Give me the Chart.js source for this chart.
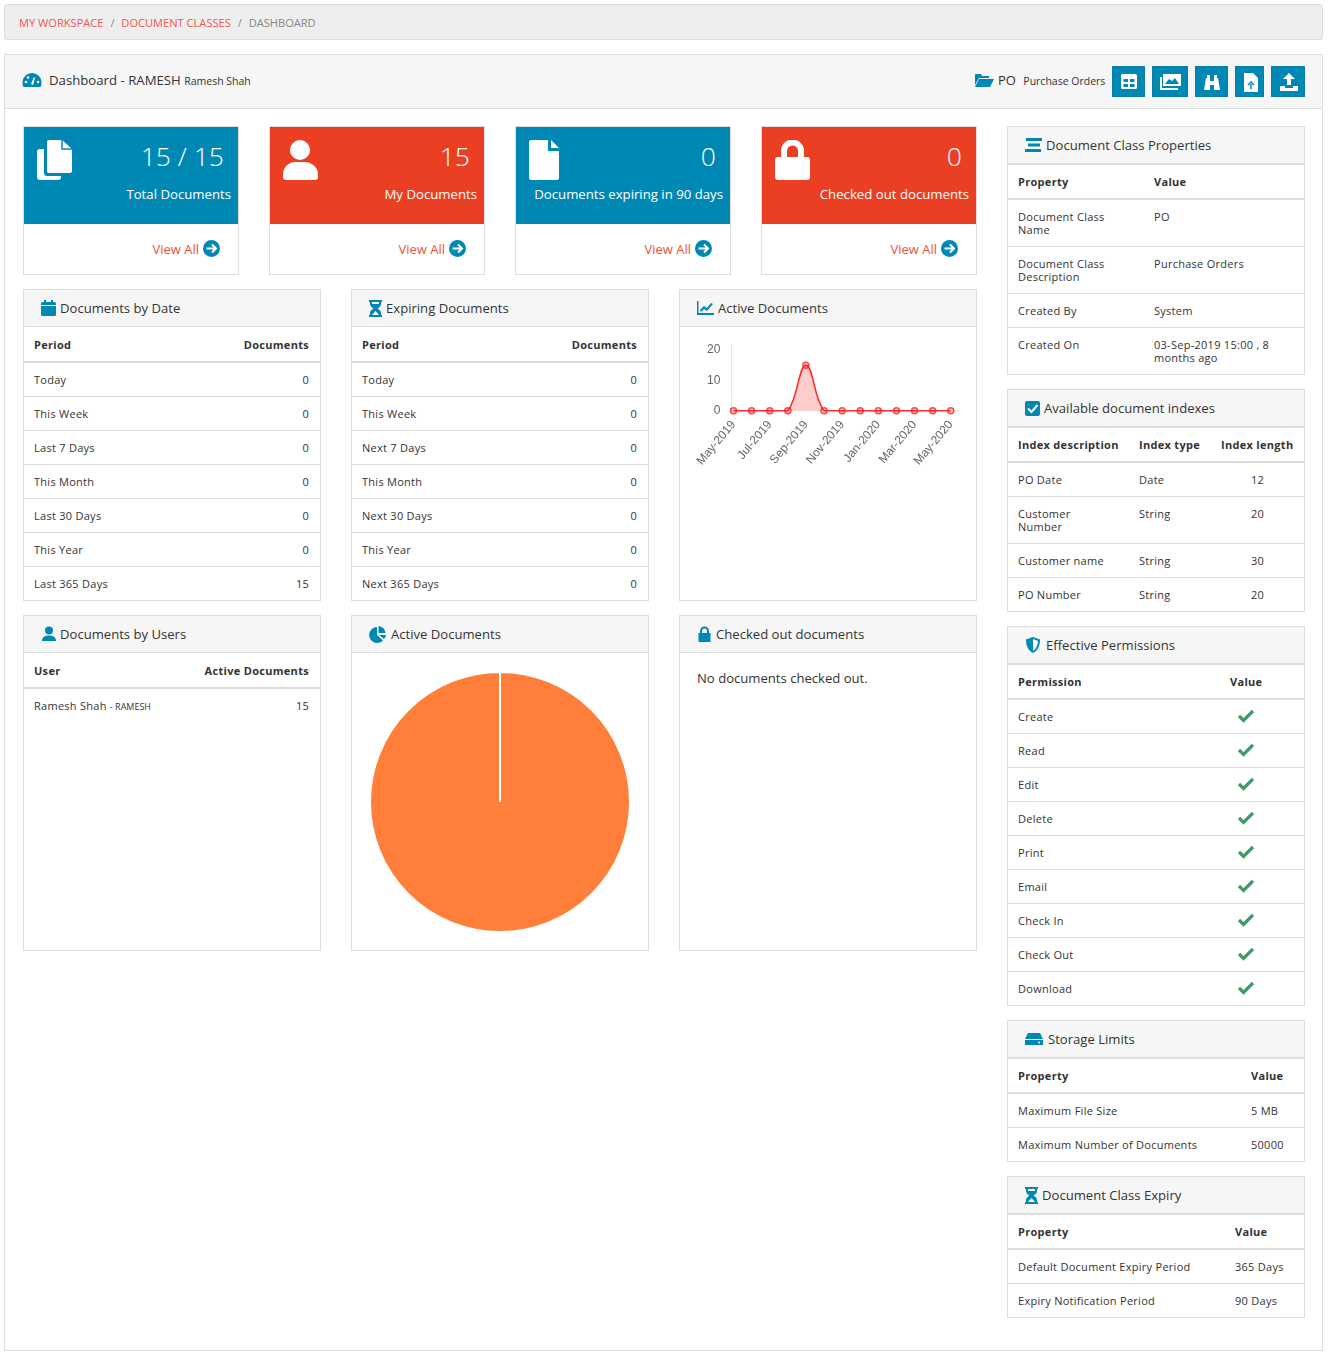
<!DOCTYPE html>
<html lang="en">
<head>
<meta charset="UTF-8" />
<title>Dashboard</title>
<script src="https://cdn.jsdelivr.net/npm/chart.js"></script>
<style>
  html, body { margin: 0; padding: 0; background: #fff; }
  body { width: 1328px; height: 1366px; position: relative; overflow: hidden; font-family: "Open Sans", sans-serif; font-size: 11px; color: #333; }
  .abs { position: absolute; box-sizing: border-box; }
  .crumb { left: 4px; top: 4px; width: 1319px; height: 36px; background: #eee; border: 1px solid #ddd; border-radius: 3px; line-height: 36px; padding-left: 14px; font-size: 11.1px; color: #888; }
  .crumb a { color: #f0584a; }
  .crumb i { font-style: normal; margin: 0 4px; color: #888; }
  .main { left: 4px; top: 54px; width: 1319px; height: 1297px; border: 1px solid #ddd; }
  .mainhead { left: 5px; top: 55px; width: 1317px; height: 54px; background: #f6f6f6; border-bottom: 1px solid #ddd; }
  .tile { width: 216px; height: 149px; border: 1px solid #ddd; top: 126px; background: #fff; }
  .tile .top { position: absolute; left: 0; top: 0; right: 0; height: 97px; color: #fff; text-align: right; }
  .tile .num { position: absolute; right: 14px; top: 10px; font-size: 26.5px; font-weight: 300; line-height: 38px; }
  .tile .lbl { position: absolute; right: 7px; top: 58px; font-size: 13.2px; line-height: 18px; white-space: nowrap; }
  .tile .view { position: absolute; right: 39px; top: 113px; color: #ee5138; font-size: 13px; line-height: 18px; }
  .tile svg.ic { position: absolute; left: 13px; top: 13px; }
  .tile svg.go { position: absolute; right: 18px; top: 113px; }
  .panel { border: 1px solid #ddd; background: #fff; }
  .phead { height: 36px; background: #f6f6f6; border-bottom: 1px solid #ddd; font-size: 13.1px; line-height: 37px; color: #333; position: relative; white-space: nowrap; }
  .phead svg { position: absolute; top: 10px; }
  .phead.r { border-bottom: 2px solid #ddd; }
  table { border-collapse: collapse; table-layout: fixed; width: 100%; }
  th, td { padding: 10px; line-height: 13px; font-size: 11px; letter-spacing: .27px; font-weight: 400; text-align: left; border-bottom: 1px solid #ddd; vertical-align: top; }
  th { font-weight: 700; border-bottom: 2px solid #ddd; padding: 11px 10px 10px; letter-spacing: .3px; white-space: nowrap; }
  .phead.r + table th { padding-top: 10px; }
  tr:last-child td { border-bottom: 0; }
  th.R, td.R { text-align: right; padding-right: 11px; }
  .btn { top: 66px; height: 31px; background: #0088b5; border: 1px solid #0b7ca3; }
</style>
</head>
<body>
<script>
// chart data
const months = ['May-2019', 'Jun-2019', 'Jul-2019', 'Aug-2019', 'Sep-2019', 'Oct-2019', 'Nov-2019', 'Dec-2019', 'Jan-2020', 'Feb-2020', 'Mar-2020', 'Apr-2020', 'May-2020'];
const activeDocs = [0, 0, 0, 0, 15, 0, 0, 0, 0, 0, 0, 0, 0];
const pieValues = [15];

// table data
const byDate = [['Today', 0], ['This Week', 0], ['Last 7 Days', 0], ['This Month', 0], ['Last 30 Days', 0], ['This Year', 0], ['Last 365 Days', 15]];
const expiring = [['Today', 0], ['This Week', 0], ['Next 7 Days', 0], ['This Month', 0], ['Next 30 Days', 0], ['This Year', 0], ['Next 365 Days', 0]];
const classProps = [['Document Class Name', 'PO'], ['Document Class Description', 'Purchase Orders'], ['Created By', 'System'], ['Created On', '03-Sep-2019 15:00 , 8 months ago']];
const indexes = [['PO Date', 'Date', 12], ['Customer<br>Number', 'String', 20], ['Customer name', 'String', 30], ['PO Number', 'String', 20]];
const permissions = ['Create', 'Read', 'Edit', 'Delete', 'Print', 'Email', 'Check In', 'Check Out', 'Download'];
const storage = [['Maximum File Size', '5 MB'], ['Maximum Number of Documents', '50000']];
const expiry = [['Default Document Expiry Period', '365 Days'], ['Expiry Notification Period', '90 Days']];

const BLUE = '#0088b5', RED = '#ea3f22';

function svg(w, h, vb, body, cls, extra) {
  return `<svg class="${cls || ''}" width="${w}" height="${h}" viewBox="${vb}" style="${extra || ''}">${body}</svg>`;
}
const icons = {
  cal: c => `<rect x="0" y="2" width="15" height="14" rx="1.5" fill="${c}"/><rect x="3" y="0" width="2" height="4" fill="${c}"/><rect x="10" y="0" width="2" height="4" fill="${c}"/><rect x="0" y="5" width="15" height="1" fill="#fff"/>`,
  hour: c => `<path d="M0 0h13v2h-1v2c0 2-2 3.500-3.500 4.500C10 9.500 12 11 12 13v2h1v2H0v-2h1v-2c0-2 2-3.500 3.500-4.500C3 7.500 1 6 1 4V2H0z" fill="${c}"/><path d="M3 2h7v2H3zM6.500 11l3.500 4H3z" fill="#fff"/>`,
  line: c => `<path d="M0 1h1.500v12H17v2H0z" fill="${c}"/><path d="M3 10l4-4 3 2 4-5 2 1-6 7-3-2-3 3z" fill="${c}"/>`,
  user: c => `<circle cx="8" cy="4.500" r="4" fill="${c}"/><path d="M1 15c0-4 3-5.500 7-5.500s7 1.500 7 5.500z" fill="${c}"/>`,
  pie: c => `<path d="M8 1a8 8 0 1 0 6 13.500L8 9z" fill="${c}"/><path d="M9.500 0a7.500 7.500 0 0 1 7 7H9.500z" fill="${c}"/><path d="M10 9h7a7 7 0 0 1-2 4z" fill="${c}"/>`,
  lock: c => `<path d="M3 7V5a4.500 4.500 0 0 1 9 0v2h1.500v9H1.500V7zM5 7h5V5a2.500 2.500 0 0 0-5 0z" fill="${c}"/>`,
  bars: c => `<rect x="1" y="1" width="16" height="3" fill="${c}"/><rect x="3" y="6.500" width="12" height="3" fill="${c}"/><rect x="0" y="12" width="16" height="3" fill="${c}"/>`,
  check: c => `<rect x="0" y="1" width="15" height="15" rx="2" fill="${c}"/><path d="M3 8.500l3.500 3.500L12.500 5" stroke="#fff" stroke-width="2" fill="none"/>`,
  shield: c => `<path d="M8 0l7 2.500c0 6-2 11-7 13.500C3 13.500 1 8.500 1 2.500z" fill="${c}"/><path d="M8 2l5 2c0 4-2 8-5 10z" fill="#fff"/>`,
  hdd: c => `<path d="M3 2h12l3 6v6H0V8z" fill="${c}"/><rect x="0" y="8" width="18" height="1" fill="#fff"/><circle cx="14" cy="11.500" r="1" fill="#fff"/>`,
  tick: c => `<path d="M1 8l4.500 4.500L15 3" stroke="${c}" stroke-width="3.200" fill="none"/>`
};

function add(html) {
  const d = document.createElement('div');
  d.innerHTML = html;
  while (d.firstChild) document.body.appendChild(d.firstChild);
}

// panel with a table inside, left/top/height are page pixels
function panel(left, top, height, title, icon, iconW, textX, heads, widths, rows, opts) {
  opts = opts || {};
  const align = opts.align || [];
  let body = '';
  if (heads) {
    const cols = widths.map(w => `<col style="width:${w}px">`).join('');
    const th = heads.map((h, i) => `<th class="${align[i] || ''}">${h}</th>`).join('');
    const tr = rows.map(r => '<tr>' + r.map((c, i) => `<td class="${align[i] || ''}">${c}</td>`).join('') + '</tr>').join('');
    body = `<table><colgroup>${cols}</colgroup><thead><tr>${th}</tr></thead><tbody>${tr}</tbody></table>`;
  }
  add(`<div class="abs panel" style="left:${left}px;top:${top}px;width:298px;height:${height}px">
    <div class="phead ${opts.right ? 'r' : ''}"><span style="position:absolute;left:${textX}px">${title}</span>
    ${svg(iconW, 17, `0 0 ${iconW} 17`, icons[icon](BLUE), '', `left:${opts.iconX || 17}px`)}</div>${body}${opts.html || ''}</div>`);
}

add(`<div class="abs crumb"><a>MY WORKSPACE</a><i> / </i><a>DOCUMENT CLASSES</a><i> / </i>DASHBOARD</div>`);
add(`<div class="abs main"></div><div class="abs mainhead"></div>`);
add(`<svg class="abs" style="left:22px;top:72px" width="20" height="16" viewBox="0 0 20 16"><path d="M10 1a9.500 9.500 0 0 0-9.500 9.500c0 2 .5 3.500 1 4.500h17c.5-1 1-2.500 1-4.500A9.500 9.500 0 0 0 10 1z" fill="${BLUE}"/><path d="M9 12l3-7 1 1-2 7z" fill="#fff"/><circle cx="4" cy="10" r="1.300" fill="#fff"/><circle cx="6" cy="5.500" r="1.300" fill="#fff"/><circle cx="16" cy="10" r="1.300" fill="#fff"/></svg>`);
add(`<div class="abs" style="left:49px;top:71px;font-size:13.2px;line-height:18px;white-space:nowrap">Dashboard - RAMESH <span style="font-size:10.500px">Ramesh Shah</span></div>`);
add(`<svg class="abs" style="left:975px;top:73px" width="19" height="14" viewBox="0 0 19 14"><path d="M0 2a1 1 0 0 1 1-1h5l1 2h7v2H4L0 12z" fill="${BLUE}"/><path d="M4 6h15l-4 8H0z" fill="${BLUE}"/></svg>`);
add(`<div class="abs" style="left:998px;top:71px;font-size:13px;line-height:18px;white-space:nowrap">PO <span style="font-size:10.500px;margin-left:4px">Purchase Orders</span></div>`);

// toolbar buttons
const btnIcons = [
  [1112, 33, `<rect x="8" y="7" width="16" height="15" rx="1.500" fill="#fff"/><path d="M10.500 12h4.500v3h-4.500zM17 12h4.500v3H17zM10.500 17h4.500v3h-4.500zM17 17h4.500v3H17z" fill="${BLUE}"/>`],
  [1152, 36, `<path d="M10 7h18v12H10z" fill="#fff"/><path d="M12 17l4-5 3 2 3-3 4 6z" fill="${BLUE}"/><path d="M8 10v12h17" stroke="#fff" stroke-width="2" fill="none"/>`],
  [1195, 33, `<path d="M8 23l2-12h4v12zM18 23V11h4l2 12zM14 14h4v4h-4zM11 8h3v3h-3zM18 8h3v3h-3z" fill="#fff"/>`],
  [1235, 29, `<path d="M8 6h9l5 5v14H8z" fill="#fff"/><path d="M15 22v-5m-3 1l3-3 3 3" stroke="${BLUE}" stroke-width="1.500" fill="none"/>`],
  [1271, 34, `<path d="M17 6l6 6h-4v6h-4v-6h-4zM8 19h5v2h8v-2h5v5H8z" fill="#fff"/>`]
];
btnIcons.forEach(b => add(`<div class="abs btn" style="left:${b[0]}px;width:${b[1]}px"><svg width="${b[1] - 2}" height="29" viewBox="0 0 ${b[1] - 2} 29" style="display:block">${b[2]}</svg></div>`));

// tiles
const tileNums = ['15 / 15', '15', '0', '0'];
const tileLabels = ['Total Documents', 'My Documents', 'Documents expiring in 90 days', 'Checked out documents'];
const tileLefts = [23, 269, 515, 761];
const tileColors = [BLUE, RED, BLUE, RED];
const tileIcons = [
  `<path d="M10 2a2 2 0 0 1 2-2h13l10 9v22a2 2 0 0 1-2 2H12a2 2 0 0 1-2-2z" fill="#fff"/><path d="M25 0v9h10" fill="none" stroke="${BLUE}" stroke-width="1.500"/><path d="M0 12a3 3 0 0 1 3-3h4v24a3 3 0 0 0 3 3h14v1a3 3 0 0 1-3 3H3a3 3 0 0 1-3-3z" fill="#fff"/>`,
  `<circle cx="17" cy="10" r="10" fill="#fff"/><path d="M0 37v-3c0-7 6-12 12-12h10c6 0 13 5 13 12v3a3 3 0 0 1-3 3H3a3 3 0 0 1-3-3z" fill="#fff"/>`,
  `<path d="M2 0h17v11h11v27a2 2 0 0 1-2 2H2a2 2 0 0 1-2-2V2a2 2 0 0 1 2-2z" fill="#fff"/><path d="M22 0l8 8h-8z" fill="#fff"/>`,
  `<path d="M6 17v-6a11.500 11.500 0 0 1 23 0v6h3a3 3 0 0 1 3 3v17a3 3 0 0 1-3 3H3a3 3 0 0 1-3-3V20a3 3 0 0 1 3-3zM12 17h11v-6a5.500 5.500 0 0 0-11 0z" fill="#fff"/>`
];
tileLefts.forEach((x, i) => add(`<div class="abs tile" style="left:${x}px">
  <div class="top" style="background:${tileColors[i]}">
    <svg class="ic" width="36" height="40" viewBox="0 0 36 40">${tileIcons[i]}</svg>
    <div class="num">${tileNums[i]}</div><div class="lbl">${tileLabels[i]}</div></div>
  <div class="view">View All</div>
  <svg class="go" width="17" height="17" viewBox="0 0 17 17"><circle cx="8.500" cy="8.500" r="8.500" fill="${BLUE}"/><path d="M3.500 8.500h9M9 4.500l4 4-4 4" stroke="#fff" stroke-width="2" fill="none"/></svg>
</div>`));

// left and middle panels
panel(23, 289, 312, 'Documents by Date', 'cal', 15, 36, ['Period', 'Documents'], [198, 98], byDate, { align: ['', 'R'] });
panel(351, 289, 312, 'Expiring Documents', 'hour', 13, 34, ['Period', 'Documents'], [198, 98], expiring, { align: ['', 'R'] });
panel(679, 289, 312, 'Active Documents', 'line', 17, 38, null);
panel(23, 615, 336, 'Documents by Users', 'user', 16, 36, ['User', 'Active Documents'], [160, 136],
  [['Ramesh Shah <span style="font-size:9px;letter-spacing:0">- RAMESH</span>', 15]], { align: ['', 'R'] });
panel(351, 615, 336, 'Active Documents', 'pie', 18, 39, null);
panel(679, 615, 336, 'Checked out documents', 'lock', 15, 36, null, null, null,
  { html: '<div style="position:absolute;left:17px;top:53px;font-size:13.1px;line-height:18px">No documents checked out.</div>' });

// right column
const rt = { right: true };
panel(1007, 126, 249, 'Document Class Properties', 'bars', 18, 38, ['Property', 'Value'], [136, 160], classProps, rt);
panel(1007, 389, 223, 'Available document indexes', 'check', 15, 36, ['Index description', 'Index type', 'Index length'], [121, 82, 93],
  indexes.map(r => [r[0], r[1], `<span style="display:block;text-align:center">${r[2]}</span>`]), rt);
panel(1007, 626, 380, 'Effective Permissions', 'shield', 16, 38, ['Permission', 'Value'], [212, 84],
  permissions.map(p => [p, svg(16, 15, '0 0 16 15', icons.tick('#3a9d68'), '', 'display:block;margin:-2px 0 -1px 8px')]), rt);
panel(1007, 1020, 142, 'Storage Limits', 'hdd', 18, 40, ['Property', 'Value'], [233, 63], storage, rt);
panel(1007, 1176, 142, 'Document Class Expiry', 'hour', 13, 34, ['Property', 'Value'], [217, 79], expiry, rt);

// charts
add(`<canvas id="lineChart" class="abs" style="left:680px;top:328px;width:296px;height:139px" width="296" height="139"></canvas>`);
add(`<canvas id="pieChart" class="abs" style="left:352px;top:653px;width:296px;height:298px" width="296" height="298"></canvas>`);

new Chart(document.getElementById('lineChart'), {
  type: 'line',
  data: {
    datasets: [{
      data: activeDocs.map((v, i) => ({ x: i, y: v })),
      borderColor: '#ff2a2a',
      borderWidth: 1.5,
      backgroundColor: 'rgba(255,0,0,0.2)',
      pointBorderColor: 'rgba(255,30,30,0.8)',
      pointBackgroundColor: 'rgba(255,0,0,0.2)',
      pointBorderWidth: 1.5,
      pointRadius: 3,
      fill: true,
      tension: 0.4,
      clip: false
    }]
  },
  options: {
    responsive: false,
    animation: false,
    layout: { padding: { left: 24, right: 18, top: 17, bottom: 0 } },
    plugins: { legend: { display: false }, tooltip: { enabled: false } },
    scales: {
      x: {
        type: 'linear', min: -0.12, max: 12.4,
        grid: { display: false },
        border: { color: 'rgba(0,0,0,0.1)' },
        afterBuildTicks: axis => { axis.ticks = months.map((m, i) => ({ value: i })).filter(t => t.value % 2 === 0); },
        ticks: {
          padding: -1, maxRotation: 50, minRotation: 50,
          color: '#666', font: { family: 'Liberation Sans', size: 12 },
          callback: v => months[v]
        }
      },
      y: {
        min: 0, max: 21.6,
        grid: { display: false },
        border: { color: 'rgba(0,0,0,0.1)' },
        afterBuildTicks: axis => { axis.ticks = [0, 10, 20].map(v => ({ value: v })); },
        ticks: { padding: 3, color: '#666', font: { family: 'Liberation Sans', size: 12 } }
      }
    }
  }
});

new Chart(document.getElementById('pieChart'), {
  type: 'pie',
  data: {
    labels: ['Active'],
    datasets: [{ data: pieValues, backgroundColor: '#ff7f3a', borderColor: '#fff', borderWidth: 2 }]
  },
  options: {
    responsive: false,
    animation: false,
    layout: { padding: 17 },
    plugins: { legend: { display: false }, tooltip: { enabled: false } }
  }
});
</script>
</body>
</html>
